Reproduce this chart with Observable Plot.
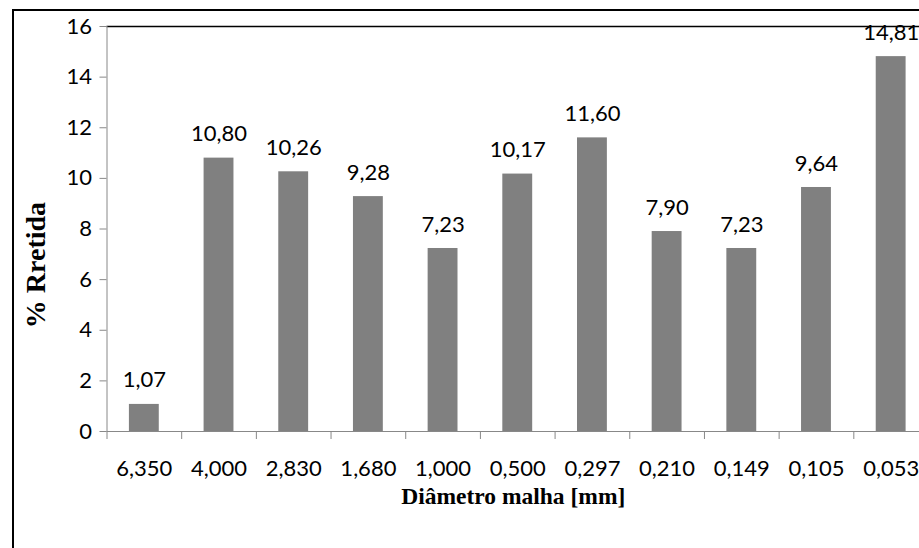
<!DOCTYPE html>
<html>
<head>
<meta charset="utf-8">
<script src="https://cdn.jsdelivr.net/npm/d3@7"></script>
<script src="https://cdn.jsdelivr.net/npm/@observablehq/plot@0.6"></script>
<style>
  html, body { margin: 0; padding: 0; background: white; overflow: hidden; }
  #wrap { position: relative; width: 919px; height: 548px; overflow: hidden; }
  #border { position: absolute; left: 12px; top: 9px; width: 1000px; height: 700px; border: 2px solid #000; box-sizing: border-box; pointer-events: none; }
</style>
</head>
<body>
<div id="wrap"><div id="chart"></div><div id="border"></div></div>
<script>
const categories = ["6,350", "4,000", "2,830", "1,680", "1,000", "0,500", "0,297", "0,210", "0,149", "0,105", "0,053"];
const values = [1.07, 10.80, 10.26, 9.28, 7.23, 10.17, 11.60, 7.90, 7.23, 9.64, 14.81];
const yTicks = [0, 2, 4, 6, 8, 10, 12, 14, 16];
const xTitle = "Diâmetro malha [mm]";
const yTitle = "% Rretida";

const data = categories.map((c, i) => ({c, i, v: values[i]}));
const fmt = v => v.toFixed(2).replace(".", ",");
const sans = "Lato, 'Open Sans', sans-serif";
const serif = "'Liberation Serif', 'DejaVu Serif', serif";

const chart = Plot.plot({
  width: 919,
  height: 548,
  marginLeft: 106.5,
  marginRight: 0,
  marginTop: 26,
  marginBottom: 117,
  style: {background: "white", overflow: "hidden"},
  x: {type: "linear", domain: [0, 11], range: [106.5, 928], axis: null},
  y: {domain: [0, 16], axis: null},
  marks: [
    Plot.rectY(data, {x1: d => d.i + 0.3, x2: d => d.i + 0.7, y: "v", fill: "#808080"}),
    Plot.ruleY([16], {stroke: "#000", strokeWidth: 1.5}),
    Plot.ruleY([0], {stroke: "#888"}),
    Plot.ruleX([0], {stroke: "#888"}),
    Plot.axisY({ticks: yTicks, label: null, tickSize: 7, tickPadding: 8, stroke: "#888", fill: "#000", fontSize: 22, fontFamily: sans, tickFormat: d => String(d)}),
    Plot.axisX({ticks: d3.range(0, 12), label: null, tickSize: 8, stroke: "#888", tickFormat: () => ""}),
    Plot.text(data, {x: d => d.i + 0.5, y: 0, text: "c", dy: 37, fontSize: 22, fontFamily: sans, fill: "#000"}),
    Plot.text(data, {x: d => d.i + 0.5, y: "v", text: d => fmt(d.v), dy: -24, fontSize: 22, fontFamily: sans, fill: "#000"}),
    Plot.text([xTitle], {frameAnchor: "bottom", lineAnchor: "middle", textAnchor: "middle", dy: 65, fontSize: 23.5, fontWeight: "bold", fontFamily: serif, fill: "#000"}),
    Plot.text([yTitle], {frameAnchor: "left", textAnchor: "middle", lineAnchor: "middle", dx: -71, dy: 36, rotate: -90, fontSize: 28, fontWeight: "bold", fontFamily: serif, fill: "#000"})
  ]
});
document.getElementById("chart").appendChild(chart);
</script>
</body>
</html>
